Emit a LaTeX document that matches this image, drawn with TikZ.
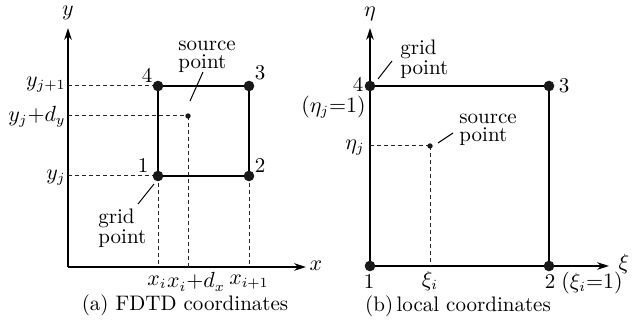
\documentclass[tikz,border=0pt]{standalone}
\usetikzlibrary{arrows.meta}
\begin{document}
\begin{tikzpicture}[x=0.5pt,y=-0.5pt,
  font=\fontsize{10.5}{9}\selectfont,
  corner/.style={circle,fill=black!90,inner sep=0pt,minimum size=5.3pt},
  src/.style={circle,fill=black!90,inner sep=0pt,minimum size=2.7pt},
  axis/.style={line width=0.7pt,-{Stealth[length=6pt,width=3.8pt]}},
  sqedge/.style={line width=1.4pt},
  guide/.style={line width=0.5pt,black!85,dash pattern=on 2pt off 1.5pt},
  lead/.style={line width=0.5pt},
  note/.style={align=left,anchor=west,inner sep=0pt},
  lbl/.style={inner sep=0pt}]
\useasboundingbox (0,0) rectangle (635,324);

% ---------------- (a) FDTD coordinates ----------------
\coordinate (O1) at (68,267);
\coordinate (ytip) at (68,28);
\coordinate (xtip) at (306,267);
\draw[axis] (O1) -- (ytip);
\draw[axis] (O1) -- (xtip);
\node[lbl] (ylab) at (68,13) {$y$};
\node[lbl] (xlab) at (316,266) {$x$};

\coordinate (p1) at (158,176);
\coordinate (p2) at (249,176);
\coordinate (p3) at (249,86);
\coordinate (p4) at (158,86);
\coordinate (ps) at (188,116);
\draw[sqedge] (p1) -- (p2) -- (p3) -- (p4) -- cycle;

\coordinate (ay4) at (68,86);
\coordinate (ays) at (68,116);
\coordinate (ay1) at (68,176);
\coordinate (ax1) at (158,267);
\coordinate (axs) at (188,267);
\coordinate (ax2) at (249,267);
\draw[guide] (ay4) -- (p4);
\draw[guide] (ays) -- (ps);
\draw[guide] (ay1) -- (p1);
\draw[guide] (p1) -- (ax1);
\draw[guide] (ps) -- (axs);
\draw[guide] (p2) -- (ax2);

\node[corner] (a1) at (p1) {};
\node[corner] (a2) at (p2) {};
\node[corner] (a3) at (p3) {};
\node[corner] (a4) at (p4) {};
\node[src] (as) at (ps) {};

\node[lbl] (n1) at (143,166) {1};
\node[lbl] (n2) at (260,166) {2};
\node[lbl] (n3) at (260,73) {3};
\node[lbl] (n4) at (147,75) {4};

\node[lbl,anchor=east] (yj1) at (66,85) {$y_{j+1}$};
\node[lbl,anchor=east] (yjd) at (66,117) {$y_j{+}d_y$};
\node[lbl,anchor=east] (yj) at (66,178) {$y_j$};

\node[lbl] (xi) at (157,282) {$x_i$};
\node[lbl] (xid) at (196,282) {$x_i{+}d_x$};
\node[lbl] (xi1) at (249,282) {$x_{i+1}$};

\node[note] (asrc) at (178,57) {source\\point};
\draw[lead] (190,101) -- (203,72);
\node[note] (agrid) at (98,228) {grid\\point};
\draw[lead] (154,184) -- (138,204);

\node[lbl] (capa) at (185,305) {(a) FDTD coordinates};

% ---------------- (b) local coordinates ----------------
\coordinate (q1) at (370,266);
\coordinate (q2) at (549,266);
\coordinate (q3) at (549,86);
\coordinate (q4) at (370,86);
\coordinate (qs) at (430,146);
\coordinate (etip) at (370,28);
\coordinate (xitip) at (609,266);
\draw[axis] (q4) -- (etip);
\draw[axis] (q2) -- (xitip);
\draw[sqedge] (q1) -- (q2) -- (q3) -- (q4) -- cycle;
\node[lbl] (etalab) at (370,14) {$\eta$};
\node[lbl] (xilab) at (624,264) {$\xi$};

\coordinate (bey) at (370,146);
\coordinate (bex) at (430,266);
\draw[guide] (bey) -- (qs);
\draw[guide] (qs) -- (bex);

\node[corner] (b1) at (q1) {};
\node[corner] (b2) at (q2) {};
\node[corner] (b3) at (q3) {};
\node[corner] (b4) at (q4) {};
\node[src] (bs) at (qs) {};

\node[lbl] (m1) at (369,282) {1};
\node[lbl] (m2) at (550,282) {2};
\node[lbl] (m3) at (564,86) {3};
\node[lbl] (m4) at (358,84) {4};

\node[lbl,anchor=east] (etaone) at (366,107) {$(\eta_j{=}1)$};
\node[lbl,anchor=east] (etaj) at (365,148) {$\eta_j$};
\node[lbl] (xii) at (430,281) {$\xi_i$};
\node[lbl] (xione) at (592,283) {$(\xi_i{=}1)$};

\node[note] (bgrid) at (400,59) {grid\\point};
\draw[lead] (378,79) -- (392,61);
\node[note] (bsrc) at (459,130) {source\\point};
\draw[lead] (438,143) -- (453,133);

\node[lbl] (capb) at (458,306) {(b)\,local coordinates};
\end{tikzpicture}
\end{document}
